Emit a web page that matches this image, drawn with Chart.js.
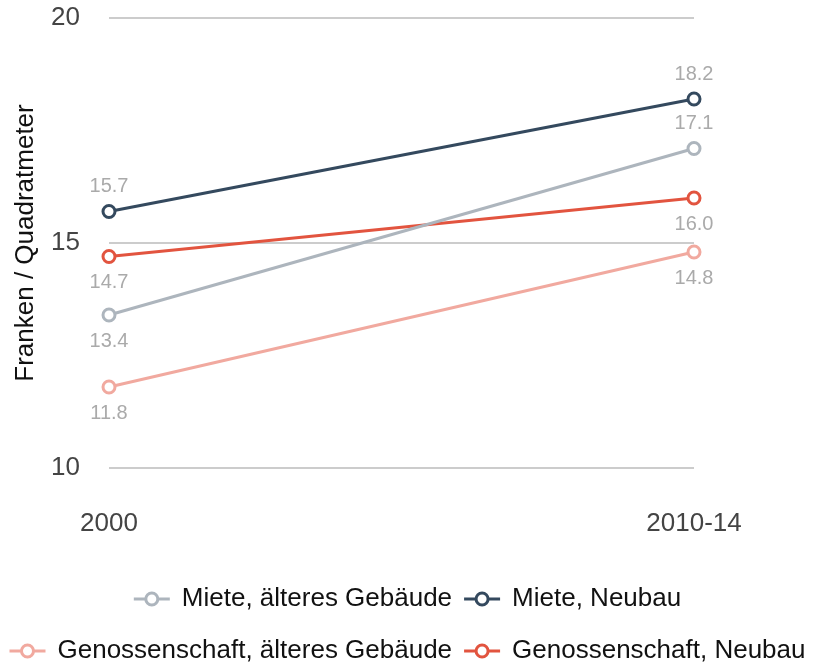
<!DOCTYPE html>
<html>
<head>
<meta charset="utf-8">
<script src="https://cdn.jsdelivr.net/npm/chart.js@4"></script>
<style>
html,body{margin:0;padding:0;background:#fff;}
#wrap{width:815px;height:667px;}
</style>
</head>
<body>
<div id="wrap"><canvas id="c" width="815" height="667"></canvas></div>
<script>
const categories = ['2000', '2010-14'];
const seriesNames = ['Miete, älteres Gebäude', 'Miete, Neubau', 'Genossenschaft, älteres Gebäude', 'Genossenschaft, Neubau'];
const mieteAlt = [13.4, 17.1];
const mieteNeu = [15.7, 18.2];
const genoAlt = [11.8, 14.8];
const genoNeu = [14.7, 16.0];
const labelSide = [['below', 'above'], ['above', 'above'], ['below', 'below'], ['below', 'below']];
const yTicks = [10, 15, 20];
const colors = ['#adb5bd', '#34495e', '#f1a99f', '#e2543f'];
const FONT = '"Liberation Sans", Arial, Helvetica, sans-serif';

const seriesValues = [mieteAlt, mieteNeu, genoAlt, genoNeu];
const datasets = seriesValues.map((vals, i) => ({
  label: seriesNames[i],
  data: vals,
  borderColor: colors[i],
  backgroundColor: '#ffffff',
  borderWidth: 3,
  pointRadius: 6,
  pointHoverRadius: 6,
  pointBorderWidth: 3,
  pointBackgroundColor: '#ffffff',
  pointBorderColor: colors[i],
  tension: 0
}));

const valueLabels = {
  id: 'valueLabels',
  afterDatasetsDraw(chart) {
    const ctx = chart.ctx;
    ctx.save();
    ctx.font = '20px ' + FONT;
    ctx.fillStyle = '#aaaaaa';
    ctx.textAlign = 'center';
    ctx.textBaseline = 'middle';
    chart.data.datasets.forEach((ds, di) => {
      const meta = chart.getDatasetMeta(di);
      meta.data.forEach((pt, pi) => {
        const side = labelSide[di][pi];
        const dy = side === 'above' ? -25 : 26;
        ctx.fillText(ds.data[pi].toFixed(1), pt.x, pt.y + dy);
      });
    });
    ctx.restore();
  }
};

const customLegend = {
  id: 'customLegend',
  afterDraw(chart) {
    const ctx = chart.ctx;
    const W = chart.width;
    const rows = [[0, 1], [2, 3]];
    const rowY = [599, 651];
    const boxW = 36, gap = 12, itemGap = 12;
    ctx.save();
    ctx.font = '26px ' + FONT;
    ctx.textBaseline = 'middle';
    ctx.textAlign = 'left';
    rows.forEach((row, ri) => {
      const widths = row.map(i => boxW + gap + ctx.measureText(chart.data.datasets[i].label).width);
      const total = widths.reduce((a, b) => a + b, 0) + itemGap * (row.length - 1);
      let x = (W - total) / 2;
      const y = rowY[ri];
      row.forEach((i, k) => {
        const ds = chart.data.datasets[i];
        ctx.strokeStyle = ds.borderColor;
        ctx.lineWidth = 3;
        ctx.beginPath();
        ctx.moveTo(x, y);
        ctx.lineTo(x + boxW, y);
        ctx.stroke();
        ctx.beginPath();
        ctx.arc(x + boxW / 2, y, 6, 0, Math.PI * 2);
        ctx.fillStyle = '#ffffff';
        ctx.fill();
        ctx.stroke();
        ctx.fillStyle = '#111111';
        ctx.fillText(ds.label, x + boxW + gap, y);
        x += widths[k] + itemGap;
      });
    });
    ctx.restore();
  }
};

new Chart(document.getElementById('c'), {
  type: 'line',
  data: { labels: categories, datasets },
  options: {
    responsive: false,
    animation: false,
    events: [],
    layout: { padding: { top: 18, right: 121, left: 0, bottom: 119 } },
    plugins: {
      legend: { display: false },
      tooltip: { enabled: false }
    },
    scales: {
      x: {
        type: 'category',
        offset: false,
        grid: { display: false, drawTicks: false },
        border: { display: false },
        ticks: { color: '#444444', font: { family: FONT, size: 26 }, padding: 40, maxRotation: 0 },
        afterFit(scale) { scale.height = 80; scale.paddingLeft = 0; scale.paddingRight = 0; }
      },
      y: {
        min: 10,
        max: 20,
        afterBuildTicks(scale) { scale.ticks = yTicks.map(v => ({ value: v })); },
        grid: { color: '#cccccc', lineWidth: 2, drawTicks: false },
        border: { display: false },
        ticks: { color: '#444444', font: { family: FONT, size: 26 }, padding: 29 },
        title: { display: true, text: 'Franken / Quadratmeter', color: '#111111', font: { family: FONT, size: 26 }, padding: { top: 10, bottom: 0 } },
        afterFit(scale) { scale.width = 109; scale.paddingTop = 0; scale.paddingBottom = 0; }
      }
    }
  },
  plugins: [valueLabels, customLegend]
});
</script>
</body>
</html>
